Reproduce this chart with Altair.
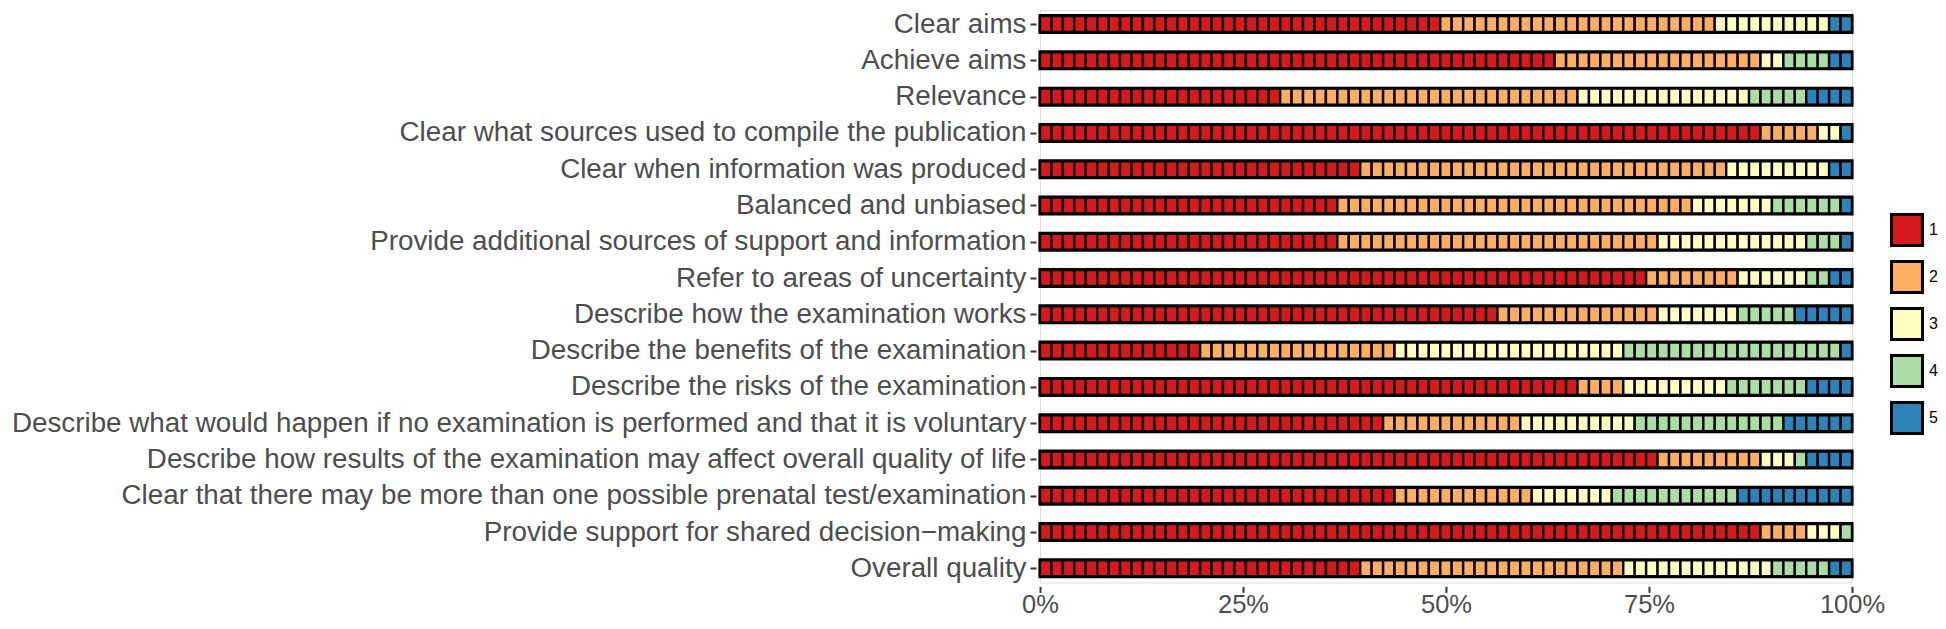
import json
import altair as alt
import pandas as pd

categories = [
    "Clear aims",
    "Achieve aims",
    "Relevance",
    "Clear what sources used to compile the publication",
    "Clear when information was produced",
    "Balanced and unbiased",
    "Provide additional sources of support and information",
    "Refer to areas of uncertainty",
    "Describe how the examination works",
    "Describe the benefits of the examination",
    "Describe the risks of the examination",
    "Describe what would happen if no examination is performed and that it is voluntary",
    "Describe how results of the examination may affect overall quality of life",
    "Clear that there may be more than one possible prenatal test/examination",
    "Provide support for shared decision\u2212making",
    "Overall quality",
]

# number of publications (cells) per rating level, per criterion
r1 = [35, 45, 21, 63, 28, 26, 26, 53, 40, 14, 47, 30, 54, 31, 63, 28]
r2 = [24, 18, 26, 5, 32, 31, 28, 8, 14, 17, 4, 12, 9, 12, 4, 23]
r3 = [10, 2, 15, 2, 9, 7, 13, 6, 7, 20, 9, 10, 3, 7, 3, 13]
r4 = [0, 4, 5, 0, 0, 6, 3, 2, 5, 19, 7, 13, 1, 11, 1, 5]
r5 = [2, 2, 4, 1, 2, 1, 1, 2, 5, 1, 4, 6, 4, 10, 0, 2]

levels = ["1", "2", "3", "4", "5"]
colors = ["#d7191c", "#fdae61", "#ffffbf", "#abdda4", "#2b83ba"]
x_ticks = [0, 0.25, 0.5, 0.75, 1]

cells = []
backs = []
for i, cat in enumerate(categories):
    counts = [r1[i], r2[i], r3[i], r4[i], r5[i]]
    total = sum(counts)
    k = 0
    for lev, c in zip(levels, counts):
        for _ in range(c):
            cells.append({"idx": i, "cat": cat, "rating": lev,
                          "x0": k / total, "x1": (k + 1) / total})
            k += 1
    backs.append({"idx": i, "cat": cat, "x0": 0.0, "x1": 1.0})

cell_df = pd.DataFrame(cells)
back_df = pd.DataFrame(backs)

FONT = "Liberation Sans"
TXT = "#4d4d4d"
label_expr = json.dumps(categories) + "[datum.value]"

xenc = alt.X(
    "x0:Q",
    scale=alt.Scale(domain=[0, 1], nice=False, zero=False),
    axis=alt.Axis(
        values=x_ticks, format=".0%", domain=False, grid=False, tickSize=6,
        tickWidth=2, tickColor="#333333", labelFontSize=25.5, labelColor=TXT,
        labelFont=FONT, labelPadding=0, offset=4, title=None,
        labelFlush=False, labelOverlap=False,
    ),
)
yenc = alt.Y(
    "idx:Q",
    scale=alt.Scale(domain=[-0.25, len(categories) - 0.75], reverse=True,
                    nice=False, zero=False),
    axis=alt.Axis(
        values=list(range(len(categories))), labelExpr=label_expr,
        domain=False, grid=False, tickSize=6, tickWidth=2, tickColor="#333333",
        labelFontSize=27.8, labelColor=TXT, labelFont=FONT, labelPadding=4,
        labelLimit=1100, offset=4, title=None, labelOverlap=False,
        labelBaseline="middle",
    ),
)

back = alt.Chart(back_df).mark_bar(
    color="black", stroke="black", strokeWidth=3, size=17, orient="horizontal"
).encode(x=xenc, x2="x1:Q", y=yenc)

tiles = alt.Chart(cell_df).mark_bar(
    stroke="black", strokeWidth=2.4, size=16, orient="horizontal"
).encode(
    x=xenc,
    x2="x1:Q",
    y=yenc,
    color=alt.Color(
        "rating:N",
        scale=alt.Scale(domain=levels, range=colors),
        title=None,
        legend=alt.Legend(
            orient="none", legendX=850, legendY=203, symbolType="square",
            symbolSize=961, symbolStrokeColor="black", symbolStrokeWidth=3,
            symbolOpacity=1, labelFontSize=16, labelColor="black",
            labelFont=FONT, labelOffset=5, rowPadding=3, padding=0,
        ),
    ),
)

chart = (
    alt.layer(back, tiles)
    .properties(
        width=812,
        height=572.4,
        padding={"left": 1032, "top": 2, "right": 86, "bottom": 38},
        autosize=alt.AutoSizeParams(type="none"),
        background="white",
    )
    .configure_view(strokeWidth=0)
    .configure(font=FONT)
)

chart.save("out.html", embed_options={"renderer": "svg", "actions": False})
